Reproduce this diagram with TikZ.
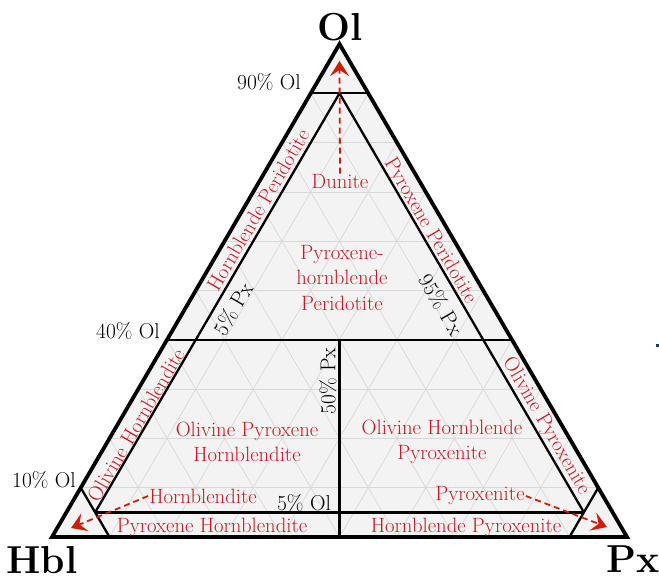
\documentclass[tikz,border=0pt]{standalone}
\usetikzlibrary{arrows.meta}
\definecolor{lab}{RGB}{200,24,34}
\definecolor{arr}{RGB}{205,30,10}
\definecolor{fillg}{RGB}{243,243,243}
\definecolor{gridg}{RGB}{216,216,216}
\definecolor{dotb}{RGB}{20,60,110}
\begin{document}
\begin{tikzpicture}[x=1pt,y=-1pt,
  outer/.style={line width=3.8pt,line join=miter},
  inner/.style={line width=2.3pt},
  gridline/.style={draw=gridg,line width=0.7pt},
  redlab/.style={text=lab,font=\fontsize{20.7}{25.5}\selectfont,align=center,inner sep=1pt},
  blklab/.style={text=black,font=\fontsize{21.5}{24}\selectfont,inner sep=1pt},
  corner/.style={font=\fontsize{39}{42}\selectfont\bfseries,inner sep=0pt,anchor=base},
  darrow/.style={draw=arr,line width=1.8pt,dash pattern=on 6pt off 4pt,-{Stealth[length=15pt,width=19pt,inset=6pt]}}]
\useasboundingbox (0,0) rectangle (659,580);
% corners
\coordinate (Hb) at (52,537);
\coordinate (Pc) at (627,537);
\coordinate (Oc) at (339.5,44);
% fill
\fill[fillg] (Hb)--(Pc)--(Oc)--cycle;
% grid
\begin{scope}
\clip (Hb)--(Pc)--(Oc)--cycle;
\foreach \k in {1,...,9}{
  \pgfmathsetmacro\f{\k/10}
  \draw[gridline] ({52+287.5*\f},{537-493*\f}) -- ({627-287.5*\f},{537-493*\f});
  \draw[gridline] ({52+575*\f},537) -- ({339.5+287.5*\f},{44+493*\f});
  \draw[gridline] ({627-575*\f},537) -- ({339.5-287.5*\f},{44+493*\f});
}
\end{scope}
% field boundaries
\coordinate (o9l) at (310.75,93.3);
\coordinate (o9r) at (368.25,93.3);
\coordinate (o9m) at (339.5,93.3);
\coordinate (o4l) at (167.2,339.8);
\coordinate (o4r) at (511.8,339.8);
\coordinate (o4m) at (339.5,339.8);
\coordinate (p5b) at (95.125,512.35);
\coordinate (h5b) at (583.875,512.35);
\coordinate (bm) at (339.5,537);
\coordinate (h9a) at (80.75,487.7);
\coordinate (h9b) at (109.5,537);
\coordinate (p9a) at (598.25,487.7);
\coordinate (p9b) at (569.5,537);
\draw[inner] (o9l)--(o9r);
\draw[inner] (o4l)--(o4r);
\draw[inner] (o9m)--(p5b);
\draw[inner] (o9m)--(h5b);
\draw[inner] (p5b)--(h5b);
\draw[inner] (o4m)--(bm);
\draw[inner] (h9a)--(h9b);
\draw[inner] (p9a)--(p9b);
\draw[outer] (Hb)--(Pc)--(Oc)--cycle;
% corner labels
\node[corner] (lOl) at (340,41) {Ol};
\node[corner] (lHbl) at (42,573) {Hbl};
\node[corner] (lPx) at (633,572) {Px};
% black labels
\node[blklab] (l90) at (269,82) {90\% Ol};
\node[blklab] (l40) at (128,331) {40\% Ol};
\node[blklab] (l10) at (44,480) {10\% Ol};
\node[blklab] (l5ol) at (304,503) {5\% Ol};
\node[blklab,rotate=59.75] (l5px) at (233,309) {5\% Px};
\node[blklab,rotate=-59.75] (l95px) at (441,305) {95\% Px};
\node[blklab,rotate=90] (l50px) at (328,381) {50\% Px};
% red labels
\node[redlab] (dun) at (340,182) {Dunite};
\node[redlab] (phper) at (342,278) {Pyroxene-\\hornblende\\Peridotite};
\node[redlab,rotate=59.75] (hper) at (258,210) {Hornblende Peridotite};
\node[redlab,rotate=-59.75] (pper) at (430,231) {Pyroxene Peridotite};
\node[redlab,rotate=59.75] (ohb) at (136,425) {Olivine Hornblendite};
\node[redlab,rotate=-59.75] (opx) at (546,426) {Olivine Pyroxenite};
\node[redlab] (oph) at (247,442) {Olivine Pyroxene\\Hornblendite};
\node[redlab] (ohp) at (442,442) {Olivine Hornblende\\Pyroxenite};
\node[redlab] (hbd) at (203,496) {Hornblendite};
\node[redlab] (pxt) at (480,496) {Pyroxenite};
\node[redlab] (phb) at (212,527) {Pyroxene Hornblendite};
\node[redlab] (hpx) at (466,527) {Hornblende Pyroxenite};
% arrows
\coordinate (tOl) at (339.5,61);
\coordinate (tHb) at (71,528);
\coordinate (tPx) at (607,527);
\draw[darrow] (dun.north) -- (tOl);
\draw[darrow] (hbd.west) -- (tHb);
\draw[darrow] (pxt.east) -- (tPx);
% stray mark
\fill[dotb] (655.5,343.5) rectangle (658.5,346.5);
\end{tikzpicture}
\end{document}
